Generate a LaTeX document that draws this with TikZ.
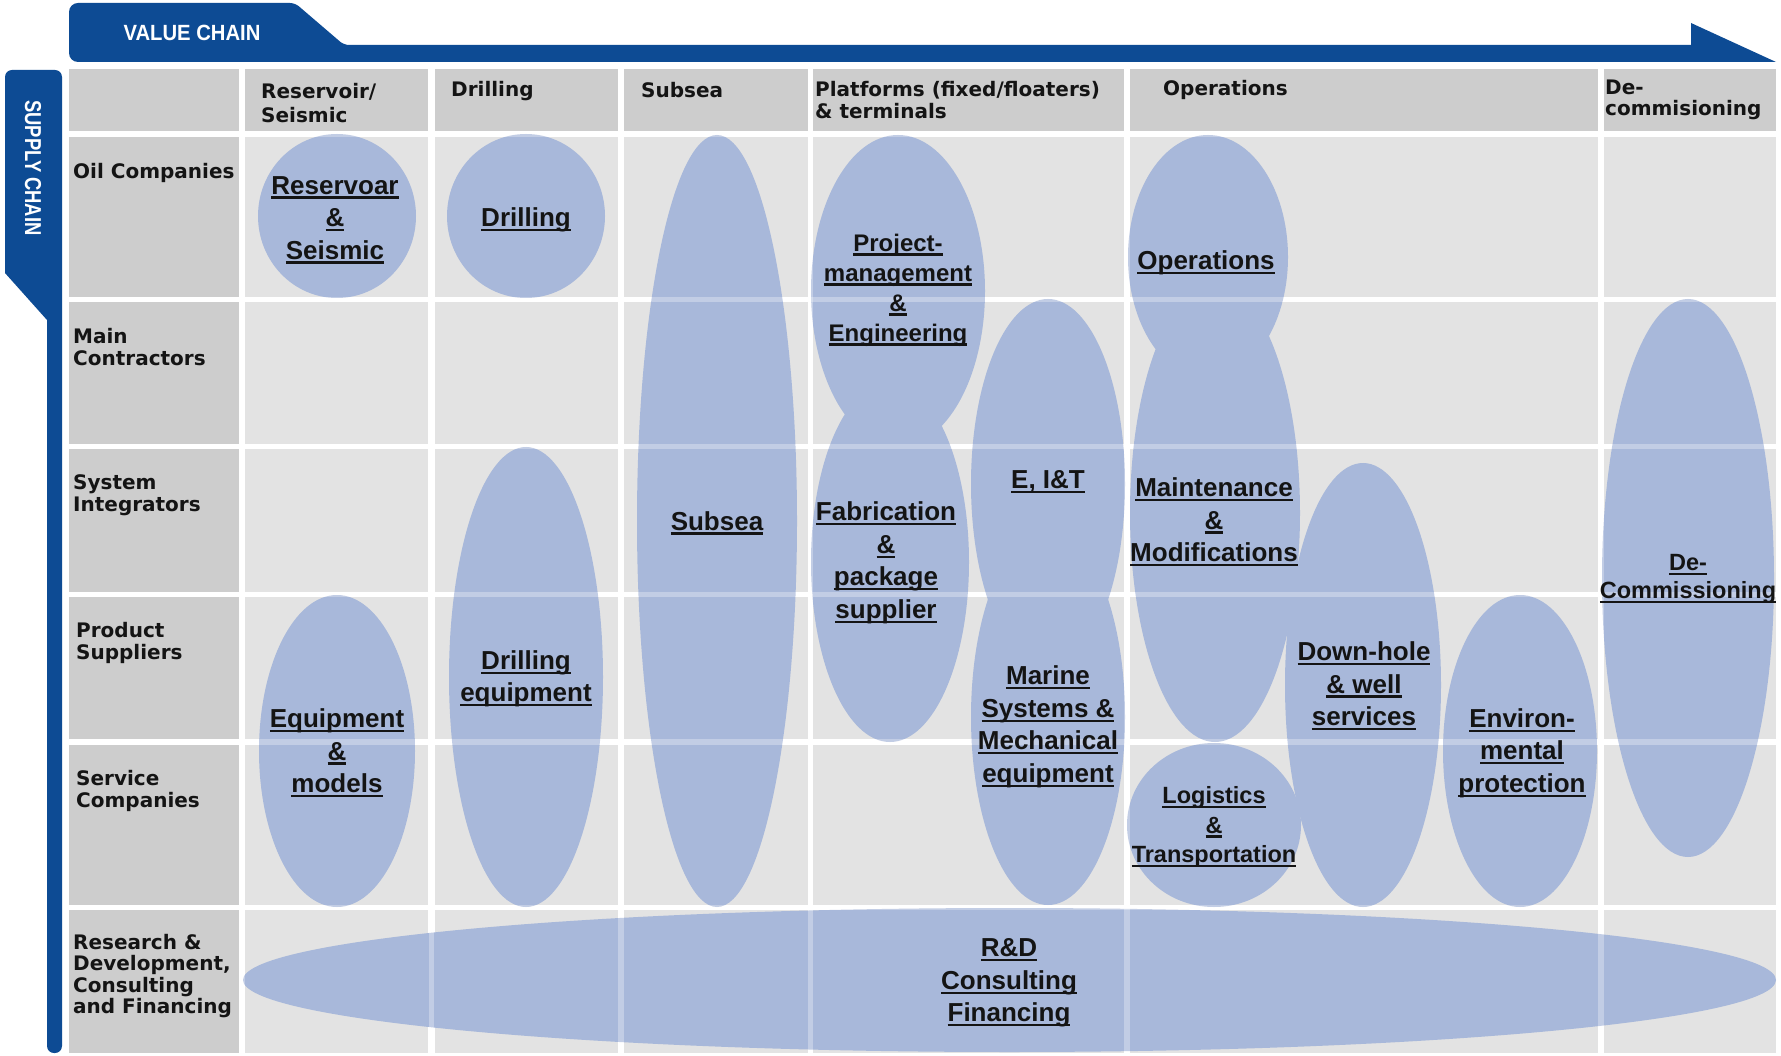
\documentclass[tikz,border=0pt]{standalone}
\usepackage{fontspec}
\setmainfont{Liberation Sans}
\newfontfamily\hdrfont{DejaVu Sans}
\newfontfamily\condfont{Liberation Sans}[FakeStretch=0.92]
\newfontfamily\condfontb{Liberation Sans}[FakeStretch=0.8]
\usetikzlibrary{shapes.geometric}
\definecolor{vcblue}{HTML}{0D4B94}
\definecolor{ellc}{HTML}{A8B8DA}
\definecolor{hdrc}{HTML}{CDCDCD}
\definecolor{bodyc}{HTML}{E3E3E3}
\newsavebox\ulbox
\newcommand\ulx[1]{\sbox\ulbox{#1}\rlap{\rule[-4.5pt]{\wd\ulbox}{2.2pt}}\usebox\ulbox}
\tikzset{
  ell/.style={ellipse, fill=ellc, draw=none, inner sep=0pt},
  lbl/.style={font=\bfseries\fontsize{26}{32.5}\selectfont, align=center, text=black!92, inner sep=0pt},
  lbls/.style={lbl, font=\bfseries\fontsize{23.5}{29.5}\selectfont},
  rowl/.style={font=\hdrfont\bfseries\fontsize{20}{21.5}\selectfont, align=left, anchor=west, inner sep=0pt, text=black!92},
  tabtxt/.style={font=\condfont\bfseries\fontsize{22}{24}\selectfont, text=white, inner sep=0pt},
  tabtxtv/.style={font=\condfontb\bfseries\fontsize{23}{24}\selectfont, text=white, inner sep=0pt},
  faint/.style={white, opacity=0.3, line width=5.5pt}
}
\begin{document}
\begin{tikzpicture}[x=1pt,y=-1pt]
\useasboundingbox (0,0) rectangle (1781,1056);
\fill[white] (0,0) rectangle (1781,1056);
% value chain arrow
\fill[vcblue] (1776,62) [rounded corners=9pt] -- (69,62) -- (69,3) [rounded corners=5pt] -- (295,3) -- (344,45) [sharp corners] -- (1691,45) -- (1691,23) -- cycle;
\node[tabtxt] (vc) at (192,33) {VALUE CHAIN};
% supply chain bar
\fill[vcblue] (47,320) -- (5,273) [rounded corners=7pt] -- (5,70) -- (62,70) -- (62,1053) -- (47,1053) [sharp corners] -- (47,320) -- cycle;
\node[tabtxtv, rotate=-90] (sc) at (33,168) {SUPPLY CHAIN};
% grid cells
\foreach \xa/\xb in {245/428,435/618,624/808,813/1124,1130/1598,1604/1776}
  \foreach \ya/\yb in {137/297,302/444,449/592,597/739,745/905,910/1053}
    \fill[bodyc] (\xa,\ya) rectangle (\xb,\yb);
\foreach \ya/\yb in {69/131,137/297,302/444,449/592,597/739,745/905,910/1053}
  \fill[hdrc] (69,\ya) rectangle (239,\yb);
\foreach \xa/\xb in {245/428,435/618,624/808,813/1124,1130/1598,1604/1776}
  \fill[hdrc] (\xa,69) rectangle (\xb,131);
% header texts
\node[rowl] (h1) at (261,103) {Reservoir/\\[2.5pt]Seismic};
\node[rowl] (h2) at (451,91) {Drilling};
\node[rowl] (h3) at (641,90) {Subsea};
\node[rowl] (h4) at (815,100) {Platforms (fixed/floaters)\\\& terminals};
\node[rowl] (h5) at (1163,90) {Operations};
\node[rowl] (h6) at (1605,100) {De-\\commisioning};
% row labels
\node[rowl] (r1) at (73,173) {Oil Companies};
\node[rowl] (r2) at (73,347) {Main\\Contractors};
\node[rowl] (r3) at (73,495) {System\\Integrators};
\node[rowl] (r4) at (76,643) {Product\\Suppliers};
\node[rowl] (r5) at (76,791) {Service\\Companies};
\node[rowl] (r6) at (73,976) {Research \&\\Development,\\Consulting\\and Financing};
% ellipses
\node[ell, minimum width=158pt, minimum height=164pt] (res) at (337,216) {};
\node[ell, minimum width=158pt, minimum height=164pt] (dri) at (526,216) {};
\node[ell, minimum width=160pt, minimum height=772pt] (sub) at (717,521) {};
\node[ell, minimum width=174pt, minimum height=312pt] (pm) at (898,291) {};
\node[ell, minimum width=158pt, minimum height=360pt] (fab) at (890,562) {};
\node[ell, minimum width=154pt, minimum height=370pt] (eit) at (1048,484) {};
\node[ell, minimum width=154pt, minimum height=376pt] (mar) at (1048,717) {};
\node[ell, minimum width=160pt, minimum height=244pt] (ops) at (1208,257) {};
\node[ell, minimum width=170pt, minimum height=458pt] (mm) at (1215,513) {};
\node[ell, minimum width=174pt, minimum height=164pt] (log) at (1214,825) {};
\node[ell, minimum width=156pt, minimum height=444pt] (dh) at (1363,685) {};
\node[ell, minimum width=154pt, minimum height=312pt] (env) at (1520,751) {};
\node[ell, minimum width=172pt, minimum height=558pt] (dec) at (1688,578) {};
\node[ell, minimum width=156pt, minimum height=312pt] (eqm) at (337,751) {};
\node[ell, minimum width=154pt, minimum height=460pt] (deq) at (526,677) {};
\node[ell, minimum width=1533pt, minimum height=144pt] (rd) at (1009.5,980) {};
% faint grid lines showing through
\foreach \x in {242,431.5,621,810.5,1127,1601}
  \draw[faint] (\x,69) -- (\x,1053);
\foreach \y in {134,299.5,446.5,594.5,742,907.5}
  \draw[faint] (69,\y) -- (1776,\y);
% ellipse labels
\node[lbl] (rest) at (335,220) {\ulx{Reservoar}\\\ulx{\&}\\\ulx{Seismic}};
\node[lbl] (drit) at (526,220) {\ulx{Drilling}};
\node[lbl] (subt) at (717,523) {\ulx{Subsea}};
\node[lbl, font=\bfseries\fontsize{24}{30}\selectfont] (pmt) at (898,290) {\ulx{Project-}\\\ulx{management}\\\ulx{\&}\\\ulx{Engineering}};
\node[lbl] (fabt) at (886,563) {\ulx{Fabrication}\\\ulx{\&}\\\ulx{package}\\\ulx{supplier}};
\node[lbl] (eitt) at (1048,482) {\ulx{E, I\&T}};
\node[lbl] (mart) at (1048,727) {\ulx{Marine}\\\ulx{Systems \&}\\\ulx{Mechanical}\\\ulx{equipment}};
\node[lbl] (opst) at (1206,263) {\ulx{Operations}};
\node[lbl] (mmt) at (1214,522) {\ulx{Maintenance}\\\ulx{\&}\\\ulx{Modifications}};
\node[lbls] (logt) at (1214,827) {\ulx{Logistics}\\\ulx{\&}\\\ulx{Transportation}};
\node[lbl] (dht) at (1364,686) {\ulx{Down-hole}\\\ulx{\& well}\\\ulx{services}};
\node[lbl] (envt) at (1522,753) {\ulx{Environ-}\\\ulx{mental}\\\ulx{protection}};
\node[lbls, font=\bfseries\fontsize{23.5}{28}\selectfont] (dect) at (1688,579) {\ulx{De-}\\\ulx{Commissioning}};
\node[lbl] (eqmt) at (337,753) {\ulx{Equipment}\\\ulx{\&}\\\ulx{models}};
\node[lbl] (deqt) at (526,679) {\ulx{Drilling}\\\ulx{equipment}};
\node[lbl] (rdt) at (1009,983) {\ulx{R\&D}\\\ulx{Consulting}\\\ulx{Financing}};
\end{tikzpicture}
\end{document}
